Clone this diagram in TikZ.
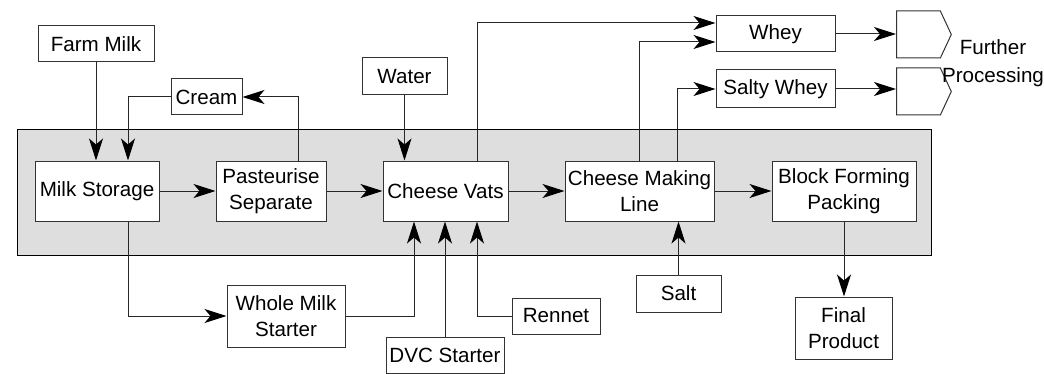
\documentclass[tikz,border=0pt]{standalone}
\usepackage{fontspec}
\setmainfont{Liberation Sans}
\usepackage{tikz}
\usetikzlibrary{shapes,arrows.meta}
\tikzset{
procbox/.style={rectangle,draw=black!80,fill=white,line width=0.5pt,inner sep=0pt,
  align=center,font=\fontsize{10.3}{12.8}\selectfont},
plantbg/.style={rectangle,draw=black,fill=black!13,line width=0.5pt},
outbox/.style={signal,signal to=east,signal pointer angle=130,draw=black!80,fill=white,
  line width=0.5pt,inner sep=0pt,minimum width=27.4pt,minimum height=23.5pt},
flowarr/.style={draw=black!85,line width=0.5pt,-{Stealth[length=11pt,width=7pt,inset=3pt,color=black]}}
}
\begin{document}
\begin{tikzpicture}[x=0.5pt,y=-0.5pt]
\useasboundingbox (0,0) rectangle (1044,374);
\node[plantbg,minimum width=457pt,minimum height=62.5pt] (plant) at (474,192.5) {};

\node[procbox,minimum width=58pt,minimum height=18pt] (farm) at (96,44) {Farm Milk};
\node[procbox,minimum width=35.5pt,minimum height=18pt] (cream) at (206.5,97) {Cream};
\node[procbox,minimum width=42.5pt,minimum height=18.5pt] (water) at (404.5,76.5) {Water};
\node[procbox,minimum width=62pt,minimum height=30pt] (store) at (97,191) {Milk Storage};
\node[procbox,minimum width=55pt,minimum height=30pt] (past) at (271,191) {Pasteurise\\Separate};
\node[procbox,minimum width=62.5pt,minimum height=30pt] (vats) at (445.5,191) {Cheese Vats};
\node[procbox,minimum width=74.5pt,minimum height=30pt] (cml) at (639.5,191) {Cheese Making\\Line};
\node[procbox,minimum width=72pt,minimum height=30pt] (bfp) at (844,191) {Block Forming\\Packing};
\node[procbox,minimum width=59pt,minimum height=31pt] (wms) at (286,316) {Whole Milk\\Starter};
\node[procbox,minimum width=59pt,minimum height=18pt] (dvc) at (445,355) {DVC Starter};
\node[procbox,minimum width=44pt,minimum height=18pt] (rennet) at (556,316) {Rennet};
\node[procbox,minimum width=42.5pt,minimum height=18.5pt] (salt) at (678.5,293.5) {Salt};
\node[procbox,minimum width=48.5pt,minimum height=31pt] (final) at (843.5,328) {Final\\Product};
\node[procbox,minimum width=59.5pt,minimum height=18pt] (whey) at (775.5,34) {Whey};
\node[procbox,minimum width=59.5pt,minimum height=19pt] (swhey) at (775.5,89) {Salty Whey};
\node[outbox,anchor=west] (fpa) at (896,34.5) {};
\node[outbox,anchor=west] (fpb) at (896,91.5) {};
\node[align=center,inner sep=0pt,font=\fontsize{10.3}{14}\selectfont] (further) at (993,63) {Further\\Processing};

\draw[flowarr] (farm.south) -- (farm.south |- store.north);
\draw[flowarr] (cream.west) -| ([xshift=15.5pt]store.north);
\draw[flowarr] ([xshift=13.5pt]past.north) |- (cream.east);
\draw[flowarr] (store) -- (past);
\draw[flowarr] (past) -- (vats);
\draw[flowarr] (vats) -- (cml);
\draw[flowarr] (cml) -- (bfp);
\draw[flowarr] (water.south) -- (water.south |- vats.north);
\draw[flowarr] ([xshift=15.75pt]vats.north) |- ([yshift=5.5pt]whey.west);
\draw[flowarr] (cml.north) |- ([yshift=-4pt]whey.west);
\draw[flowarr] ([xshift=18.75pt]cml.north) |- (swhey.west);
\draw[flowarr] (whey.east) -- (whey.east -| fpa.west);
\draw[flowarr] (swhey.east) -- (swhey.east -| fpb.west);
\draw[flowarr] ([xshift=15.5pt]store.south) |- (wms.west);
\draw[flowarr] (wms.east) -| ([xshift=-15.75pt]vats.south);
\draw[flowarr] (dvc.north) -- (dvc.north |- vats.south);
\draw[flowarr] (rennet.west) -| ([xshift=15.75pt]vats.south);
\draw[flowarr] (salt.north) -- (salt.north |- cml.south);
\draw[flowarr] (bfp.south) -- (bfp.south |- final.north);
\end{tikzpicture}
\end{document}
